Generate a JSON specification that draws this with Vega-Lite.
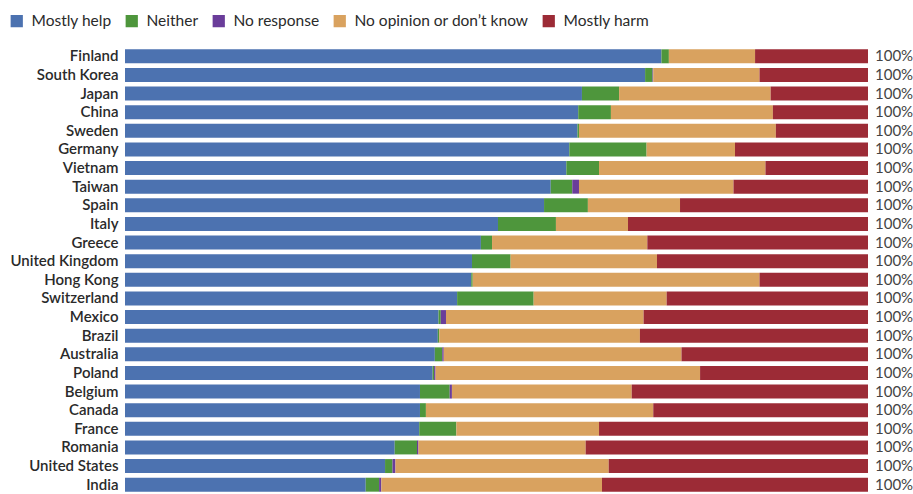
{
  "$schema": "https://vega.github.io/schema/vega-lite/v6.json",
  "width": 743,
  "height": 447,
  "autosize": {"type": "none"},
  "padding": {"left": 125, "top": 47, "right": 45, "bottom": 0},
  "background": "white",
  "config": {
    "view": {"stroke": null},
    "font": "Lato"
  },
  "data": {
    "values": [
      {"country": "Finland", "Mostly help": 72.2, "Neither": 1.0, "No response": 0, "No opinion or don’t know": 11.6, "Mostly harm": 15.2},
      {"country": "South Korea", "Mostly help": 70.0, "Neither": 1.0, "No response": 0.1, "No opinion or don’t know": 14.3, "Mostly harm": 14.6},
      {"country": "Japan", "Mostly help": 61.5, "Neither": 5.0, "No response": 0, "No opinion or don’t know": 20.4, "Mostly harm": 13.1},
      {"country": "China", "Mostly help": 61.0, "Neither": 4.4, "No response": 0, "No opinion or don’t know": 21.8, "Mostly harm": 12.8},
      {"country": "Sweden", "Mostly help": 60.9, "Neither": 0.2, "No response": 0, "No opinion or don’t know": 26.5, "Mostly harm": 12.4},
      {"country": "Germany", "Mostly help": 59.8, "Neither": 10.4, "No response": 0, "No opinion or don’t know": 11.9, "Mostly harm": 17.9},
      {"country": "Vietnam", "Mostly help": 59.4, "Neither": 4.4, "No response": 0, "No opinion or don’t know": 22.4, "Mostly harm": 13.8},
      {"country": "Taiwan", "Mostly help": 57.3, "Neither": 2.9, "No response": 0.9, "No opinion or don’t know": 20.8, "Mostly harm": 18.1},
      {"country": "Spain", "Mostly help": 56.4, "Neither": 5.9, "No response": 0, "No opinion or don’t know": 12.4, "Mostly harm": 25.3},
      {"country": "Italy", "Mostly help": 50.2, "Neither": 7.8, "No response": 0, "No opinion or don’t know": 9.7, "Mostly harm": 32.3},
      {"country": "Greece", "Mostly help": 47.9, "Neither": 1.5, "No response": 0, "No opinion or don’t know": 20.9, "Mostly harm": 29.7},
      {"country": "United Kingdom", "Mostly help": 46.7, "Neither": 5.2, "No response": 0, "No opinion or don’t know": 19.7, "Mostly harm": 28.4},
      {"country": "Hong Kong", "Mostly help": 46.6, "Neither": 0.2, "No response": 0, "No opinion or don’t know": 38.6, "Mostly harm": 14.6},
      {"country": "Switzerland", "Mostly help": 44.7, "Neither": 10.3, "No response": 0, "No opinion or don’t know": 17.9, "Mostly harm": 27.1},
      {"country": "Mexico", "Mostly help": 42.2, "Neither": 0.3, "No response": 0.7, "No opinion or don’t know": 26.6, "Mostly harm": 30.2},
      {"country": "Brazil", "Mostly help": 42.1, "Neither": 0.2, "No response": 0, "No opinion or don’t know": 27.0, "Mostly harm": 30.7},
      {"country": "Australia", "Mostly help": 41.7, "Neither": 1.0, "No response": 0.2, "No opinion or don’t know": 32.0, "Mostly harm": 25.1},
      {"country": "Poland", "Mostly help": 41.4, "Neither": 0.2, "No response": 0.2, "No opinion or don’t know": 35.6, "Mostly harm": 22.6},
      {"country": "Belgium", "Mostly help": 39.7, "Neither": 4.0, "No response": 0.3, "No opinion or don’t know": 24.2, "Mostly harm": 31.8},
      {"country": "Canada", "Mostly help": 39.7, "Neither": 0.8, "No response": 0, "No opinion or don’t know": 30.6, "Mostly harm": 28.9},
      {"country": "France", "Mostly help": 39.6, "Neither": 5.0, "No response": 0, "No opinion or don’t know": 19.2, "Mostly harm": 36.2},
      {"country": "Romania", "Mostly help": 36.3, "Neither": 3.0, "No response": 0.2, "No opinion or don’t know": 22.5, "Mostly harm": 38.0},
      {"country": "United States", "Mostly help": 35.0, "Neither": 1.0, "No response": 0.4, "No opinion or don’t know": 28.7, "Mostly harm": 34.9},
      {"country": "India", "Mostly help": 32.4, "Neither": 1.8, "No response": 0.3, "No opinion or don’t know": 29.7, "Mostly harm": 35.8}
    ]
  },
  "transform": [
    {"fold": ["Mostly help", "Neither", "No response", "No opinion or don’t know", "Mostly harm"], "as": ["response", "value"]},
    {"calculate": "indexof(['Mostly help','Neither','No response','No opinion or don’t know','Mostly harm'], datum.response)", "as": "k"}
  ],
  "encoding": {
    "y": {
      "field": "country",
      "type": "nominal",
      "sort": null,
      "scale": {"paddingInner": 0.25, "paddingOuter": 0.125},
      "axis": {
        "title": null,
        "domain": false,
        "ticks": false,
        "labelPadding": 7,
        "labelFont": "Lato",
        "labelFontSize": 15,
        "labelFontWeight": 600,
        "labelColor": "#2a2a2a"
      }
    }
  },
  "layer": [
    {
      "mark": {"type": "bar"},
      "encoding": {
        "x": {
          "field": "value",
          "type": "quantitative",
          "stack": "zero",
          "scale": {"domain": [0, 100], "nice": false},
          "axis": null
        },
        "order": {"field": "k", "type": "quantitative"},
        "color": {
          "field": "response",
          "type": "nominal",
          "scale": {
            "domain": ["Mostly help", "Neither", "No response", "No opinion or don’t know", "Mostly harm"],
            "range": ["#4C72B0", "#4E963C", "#6A3D9A", "#D9A25F", "#9C2B36"]
          },
          "legend": {
            "title": null,
            "orient": "none",
            "legendX": -116,
            "legendY": -34,
            "direction": "horizontal",
            "symbolType": "square",
            "symbolSize": 150,
            "symbolStrokeWidth": 0,
            "labelFont": "Lato",
            "labelFontSize": 15.5,
            "labelColor": "#2a2a2a",
            "labelOffset": 7,
            "columnPadding": 12,
            "labelLimit": 300
          }
        }
      }
    },
    {
      "transform": [
        {"aggregate": [{"op": "sum", "field": "value", "as": "total"}], "groupby": ["country"]},
        {"calculate": "format(datum.total, '.0f') + '%'", "as": "label"}
      ],
      "mark": {"type": "text", "align": "left", "baseline": "middle", "dx": 7, "font": "Lato", "fontSize": 15, "color": "#444"},
      "encoding": {
        "x": {"field": "total", "type": "quantitative"},
        "text": {"field": "label"}
      }
    }
  ]
}
